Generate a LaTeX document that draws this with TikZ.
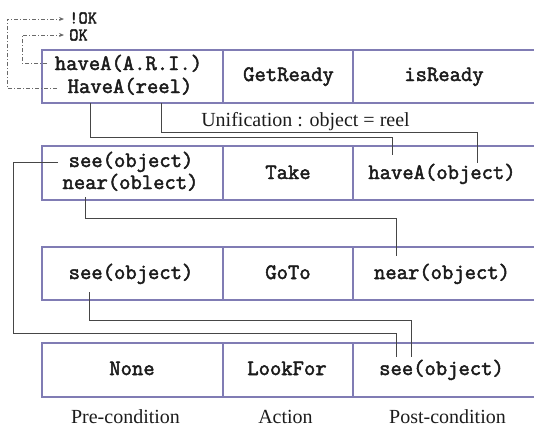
\documentclass[tikz,border=0pt]{standalone}
\usepackage{fontspec}
\setmainfont{Liberation Serif}
\newfontfamily\codefont{Latin Modern Mono}[FakeBold=2.2]
\usetikzlibrary{arrows.meta}

\definecolor{gridcol}{RGB}{128,124,180}
\definecolor{linkcol}{RGB}{70,70,70}
\definecolor{dashcol}{RGB}{105,105,105}
\definecolor{inkcol}{RGB}{28,28,28}

\tikzset{
  grid/.style={draw=gridcol, line width=1.1pt},
  mono/.style={font={\codefont\fontsize{22}{24}\selectfont}, text=inkcol, inner sep=0pt, anchor=base},
  flag/.style={font={\codefont\fontsize{18}{20}\selectfont}, text=inkcol, inner sep=0pt, anchor=base west},
  serif/.style={font={\fontsize{20}{24}\selectfont}, text=inkcol, inner sep=0pt, anchor=base},
  link/.style={draw=linkcol, line width=0.9pt},
  signal/.style={draw=dashcol, line width=0.9pt,
    dash pattern=on 4pt off 2pt on 1pt off 2pt,
    -{Stealth[length=5pt,width=4pt]}},
}

\begin{document}
\begin{tikzpicture}[x=1pt, y=-1pt]
\useasboundingbox (0,0) rectangle (534,426);

% table rows: left edge, top and bottom rules, column dividers
\foreach \top/\bot in {50/103, 146/200, 247/300, 343/397} {
  \draw[grid] (545,\top) -- (42,\top) -- (42,\bot) -- (545,\bot);
  \draw[grid] (223,\top) -- (223,\bot);
  \draw[grid] (353,\top) -- (353,\bot);
}

% row 1: GetReady
\node[mono] (ari)      at (128.5,70) {haveA(A.R.I.)};
\node[mono] (reel)     at (130,93)   {HaveA(reel)};
\node[mono] (getready) at (288.5,81) {GetReady};
\node[mono] (isready)  at (444,81)   {isReady};
\node[serif] (unif)    at (305.5,126) {Unification : object = reel};

% row 2: Take
\node[mono] (see2)  at (131,167)   {see(object)};
\node[mono] (near2) at (130.5,189) {near(oblect)};
\node[mono] (take)  at (288,179)   {Take};
\node[mono] (have2) at (442,179)   {haveA(object)};

% row 3: GoTo
\node[mono] (see3)  at (131,279) {see(object)};
\node[mono] (goto)  at (288,279) {GoTo};
\node[mono] (near3) at (442,279) {near(object)};

% row 4: LookFor
\node[mono] (none)    at (132,375)   {None};
\node[mono] (lookfor) at (287,375)   {LookFor};
\node[mono] (see4)    at (441.5,375) {see(object)};

% column captions
\node[serif] (pre)  at (125.5,423) {Pre-condition};
\node[serif] (act)  at (285.5,423) {Action};
\node[serif] (post) at (447.5,423) {Post-condition};

% result signals
\node[flag] (notok) at (69,23.5) {!OK};
\node[flag] (ok)    at (69,40.5) {OK};

% connector end points
\coordinate (reelA)  at (90,103);
\coordinate (reelB)  at (161,103);
\coordinate (have2A) at (392,155);
\coordinate (have2B) at (477,163);
\coordinate (see2L)  at (58,162);
\coordinate (near2D) at (85,197);
\coordinate (near3T) at (396,256);
\coordinate (see3D)  at (89,292);
\coordinate (see4A)  at (396,357);
\coordinate (see4B)  at (411,357);
\coordinate (ariL)   at (47,63);
\coordinate (reelL)  at (57,88);
\coordinate (okT)    at (64,35);
\coordinate (notokT) at (64,19);

% unification links
\draw[link] (reelA) -- ++(0,34) -| (have2A);
\draw[link] (reelB) -- ++(0,29) -| (have2B);
\draw[link] (near2D) -- ++(0,21) -| (near3T);
\draw[link] (see3D) -- ++(0,28) -| (see4B);
\draw[link] (see2L) -- (13,162) -- (13,333) -| (see4A);

% success / failure signals
\draw[signal] (ariL) -- (22,63) |- (okT);
\draw[signal] (reelL) -- (7,88) |- (notokT);
\end{tikzpicture}
\end{document}
